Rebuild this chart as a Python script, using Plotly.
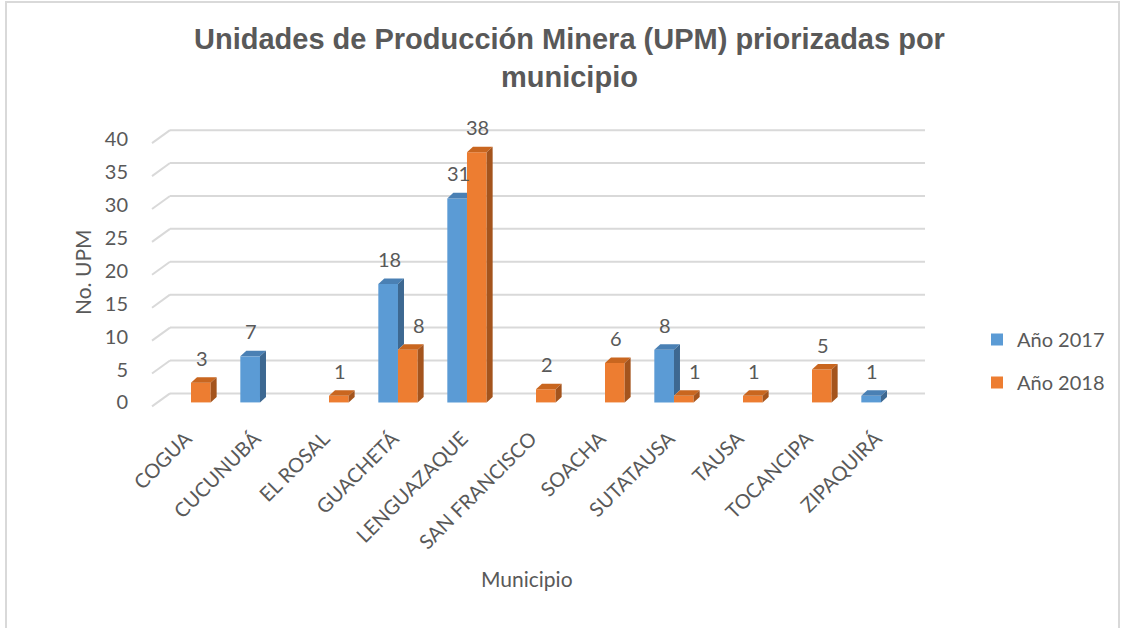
import plotly.graph_objects as go

# Data
municipios = ["COGUA", "CUCUNUBÁ", "EL ROSAL", "GUACHETÁ", "LENGUAZAQUE",
              "SAN FRANCISCO", "SOACHA", "SUTATAUSA", "TAUSA", "TOCANCIPA", "ZIPAQUIRÁ"]
upm_2017 = [None, 7, None, 18, 31, None, None, 8, None, None, 1]
upm_2018 = [3, None, 1, 8, 38, 2, 6, 1, 1, 5, None]
y_ticks = [0, 5, 10, 15, 20, 25, 30, 35, 40]

# Styling
TXT = "#595959"
GRID = "#d9d9d9"
BLUE, BLUE_TOP, BLUE_SIDE = "#5b9bd5", "#4a80b4", "#3d6891"
ORANGE, ORANGE_TOP, ORANGE_SIDE = "#ed7d31", "#c9661f", "#a4541d"
FONT = "Lato"

W = 0.285       # bar width in category units
DX = 0.087      # depth offset (x, category units)
DY = 0.84       # depth offset (y, value units)
BACK_DY = 1.37  # back-wall gridline offset
x_idx = list(range(len(municipios)))

fig = go.Figure()

# Front faces
fig.add_trace(go.Bar(x=x_idx, y=upm_2017, width=W, offset=-W, name="Año 2017",
                     marker=dict(color=BLUE, line=dict(width=0)), legendgroup="a"))
fig.add_trace(go.Bar(x=x_idx, y=upm_2018, width=W, offset=0, name="Año 2018",
                     marker=dict(color=ORANGE, line=dict(width=0)), legendgroup="b"))


def poly(xs, ys, color):
    fig.add_trace(go.Scatter(x=xs + [xs[0]], y=ys + [ys[0]], mode="lines", fill="toself",
                             fillcolor=color, line=dict(width=0, color=color),
                             hoverinfo="skip", showlegend=False))


# Top and side faces of the 3-D columns
for i, (b, o) in enumerate(zip(upm_2017, upm_2018)):
    if b is not None:
        x0, x1 = i - W, i
        if o is not None and o >= b:
            # right part hidden behind the 2018 column
            poly([x0, x1, x1, x0 + DX], [b, b, b + DY, b + DY], BLUE_TOP)
        else:
            poly([x0, x1, x1 + DX, x0 + DX], [b, b, b + DY, b + DY], BLUE_TOP)
            base = o if o is not None else 0
            poly([x1, x1, x1 + DX, x1 + DX], [base, b, b + DY, base + DY], BLUE_SIDE)
    if o is not None:
        x0, x1 = i, i + W
        poly([x0, x1, x1 + DX, x0 + DX], [o, o, o + DY, o + DY], ORANGE_TOP)
        poly([x1, x1, x1 + DX, x1 + DX], [0, o, o + DY, DY], ORANGE_SIDE)

# Back-wall gridlines with the floor diagonal
shapes = []
for v in y_ticks:
    shapes.append(dict(type="line", xref="x", yref="y", layer="below",
                       x0=-0.304, x1=10.638, y0=v + BACK_DY, y1=v + BACK_DY,
                       line=dict(color=GRID, width=2)))
    shapes.append(dict(type="line", xref="x", yref="y", layer="below",
                       x0=-0.565, x1=-0.304, y0=v - 0.61, y1=v + BACK_DY,
                       line=dict(color=GRID, width=2)))

# Outer chart border
L, R, T, B = 150, 196, 126, 219
PW, PH = 1123 - L - R, 628 - T - B


def px(x):
    return (x - L) / PW


def py(y):
    return (628 - B - y) / PH


shapes.append(dict(type="rect", xref="paper", yref="paper",
                   x0=px(6), x1=px(1119), y0=py(640), y1=py(2),
                   line=dict(color=GRID, width=2), fillcolor="rgba(0,0,0,0)"))

# Value labels (a 2018 label is nudged right when the 2017 column beside it is taller)
annotations = []
for i, (b, o) in enumerate(zip(upm_2017, upm_2018)):
    if b is not None:
        annotations.append(dict(x=i - W / 2, y=b, xref="x", yref="y", text=str(b),
                                showarrow=False, yshift=25, xshift=1,
                                font=dict(family=FONT, size=20, color=TXT)))
    if o is not None:
        nudge = 10 if (b is not None and b > o) else 0
        annotations.append(dict(x=i + W / 2, y=o, xref="x", yref="y", text=str(o),
                                showarrow=False, yshift=25, xshift=1 + nudge,
                                font=dict(family=FONT, size=20, color=TXT)))

# Titles
annotations.append(dict(text="Unidades de Producción Minera (UPM) priorizadas por<br>municipio",
                        xref="paper", yref="paper", x=px(569), y=py(58),
                        xanchor="center", yanchor="middle", showarrow=False,
                        font=dict(family="Liberation Sans", size=29, color=TXT, weight="bold")))
annotations.append(dict(text="Municipio", xref="paper", yref="paper",
                        x=px(527), y=py(578), xanchor="center", yanchor="middle",
                        showarrow=False, font=dict(family=FONT, size=21, color=TXT)))
annotations.append(dict(text="No. UPM", xref="paper", yref="paper", textangle=-90,
                        x=px(82), y=py(272), xanchor="center", yanchor="middle",
                        showarrow=False, font=dict(family=FONT, size=21, color=TXT)))

fig.update_layout(
    width=1123, height=628,
    margin=dict(l=L, r=R, t=T, b=B, autoexpand=False),
    paper_bgcolor="white", plot_bgcolor="white",
    barmode="overlay",
    xaxis=dict(range=[-0.594, 10.667], tickmode="array", tickvals=x_idx,
               ticktext=municipios, tickangle=-45, showgrid=False, zeroline=False,
               showline=False, ticks="outside", ticklen=9, tickcolor="rgba(0,0,0,0)",
               ticklabelshift=-5,
               tickfont=dict(family=FONT, size=20, color=TXT)),
    yaxis=dict(range=[-1, 42], tickmode="array", tickvals=y_ticks,
               showgrid=False, zeroline=False, showline=False,
               ticks="outside", ticklen=17, tickcolor="rgba(0,0,0,0)",
               tickfont=dict(family=FONT, size=20, color=TXT)),
    legend=dict(x=px(977), y=py(320), xanchor="left", yanchor="top",
                font=dict(family=FONT, size=20, color=TXT),
                traceorder="grouped", tracegroupgap=14, itemwidth=30,
                bgcolor="rgba(0,0,0,0)"),
    shapes=shapes, annotations=annotations,
    showlegend=True,
)

fig.write_html("out.html")
